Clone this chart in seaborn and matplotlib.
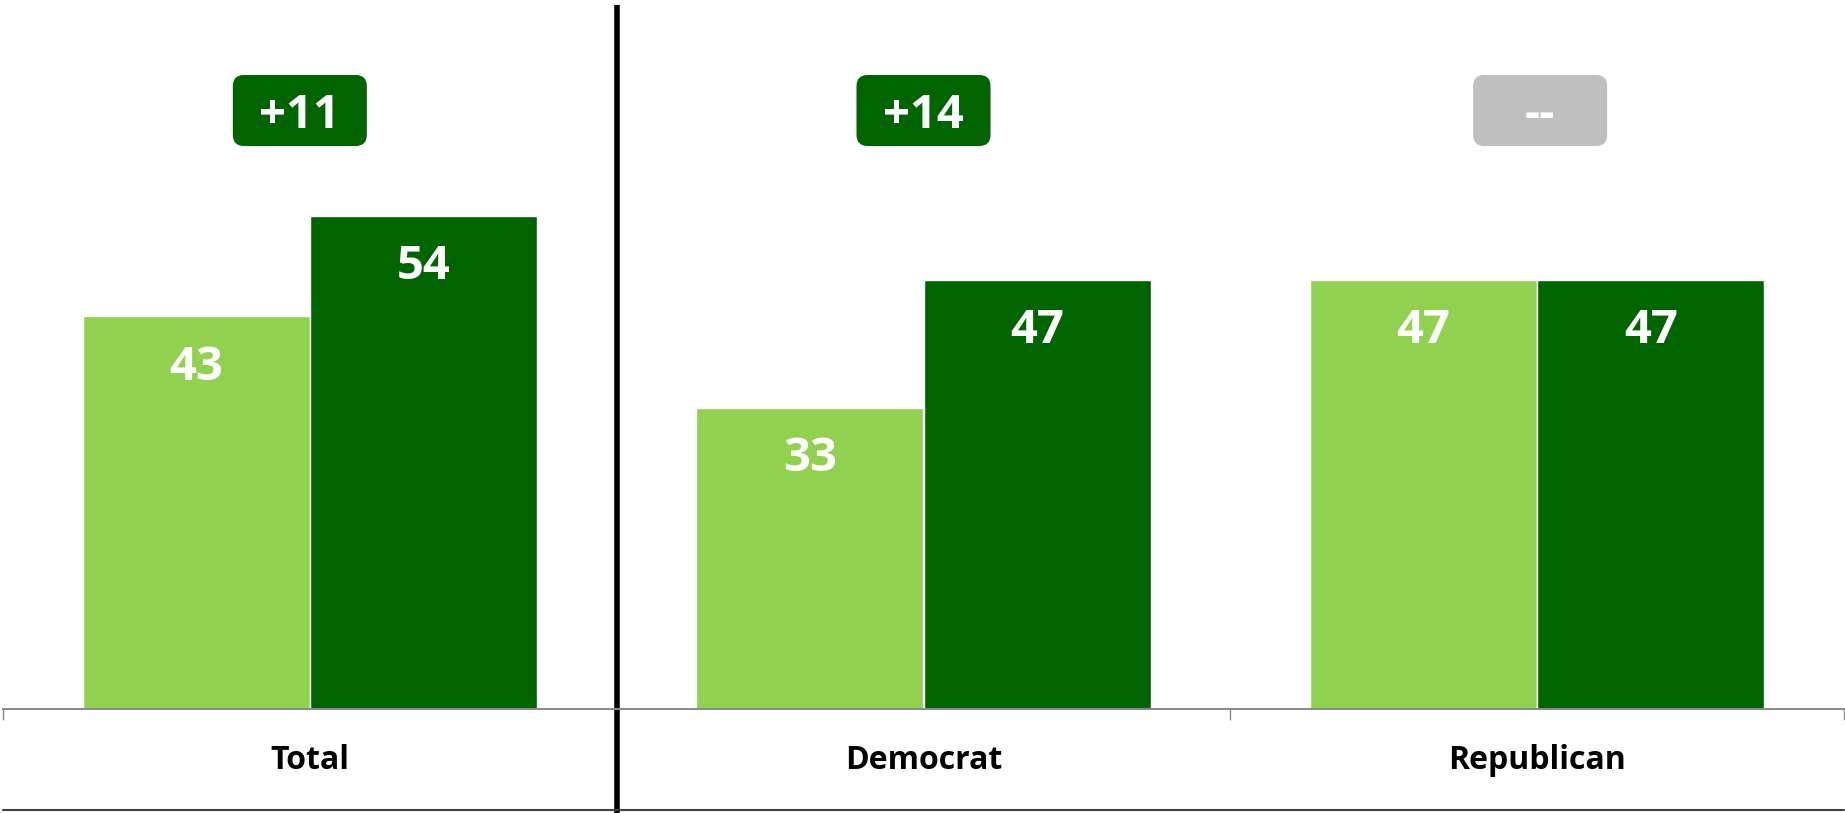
import pandas as pd
import matplotlib.pyplot as plt
import seaborn as sns
from matplotlib.patches import FancyBboxPatch
from matplotlib.transforms import IdentityTransform

groups = ['Total', 'Democrat', 'Republican']
periods = ['Earlier', 'Later']
earlier_values = [43, 33, 47]
later_values = [54, 47, 47]
change_labels = ['+11', '+14', '--']
change_colors = ['#006400', '#006400', '#BFBFBF']
bar_colors = ['#92D050', '#006400']

df = pd.DataFrame({
    'group': groups * 2,
    'period': [periods[0]] * 3 + [periods[1]] * 3,
    'value': earlier_values + later_values,
})

sns.set_theme(style='white')
plt.rcParams['font.family'] = ['Open Sans', 'DejaVu Sans']

W, H, DPI = 1845, 813, 100
fig = plt.figure(figsize=(W / DPI, H / DPI), dpi=DPI)
base_px = 709          # axis line, pixels from top
px_per_unit = 9.13
ax = fig.add_axes([3 / W, (H - base_px) / H, (1844 - 3) / W, base_px / H])

sns.barplot(data=df, x='group', y='value', hue='period', order=groups,
            hue_order=periods, palette=bar_colors, width=0.74, ax=ax,
            edgecolor='white', linewidth=1, saturation=1, legend=False)

ax.set_xlim(-0.5, 2.5)
ax.set_ylim(0, base_px / px_per_unit)
ax.set_xlabel('')
ax.set_ylabel('')
ax.set_yticks([])
ax.set_xticks([-0.5, 0.5, 1.5, 2.5])
ax.set_xticklabels([])
ax.tick_params(axis='x', direction='out', length=8, width=1, color='#888888', bottom=True)
for s in ['top', 'left', 'right']:
    ax.spines[s].set_visible(False)
ax.spines['bottom'].set_color('#888888')
ax.spines['bottom'].set_linewidth(1.4)

# value labels inside bars
for container in ax.containers:
    for bar in container:
        v = bar.get_height()
        ax.text(bar.get_x() + bar.get_width() / 2, v - 6.95, f'{v:.0f}',
                ha='center', va='baseline', color='white',
                fontsize=34, fontweight='bold')

# category labels
for i, g in enumerate(groups):
    ax.text(i, -(769 - base_px) / px_per_unit, g, ha='center', va='baseline',
            fontsize=23, fontweight='bold', color='black', clip_on=False)

# change badges
badge_w, badge_h = 134, 71
badge_y = (base_px - 110.5) / px_per_unit
badge_dx = [-10, 0, 3]   # small pixel nudges seen in the original
fig.canvas.draw()
for i, (lab, col) in enumerate(zip(change_labels, change_colors)):
    cx, cy = ax.transData.transform((i, badge_y))
    cx += badge_dx[i]
    box = FancyBboxPatch((cx - badge_w / 2, cy - badge_h / 2), badge_w, badge_h,
                         boxstyle='round,pad=0,rounding_size=11',
                         transform=IdentityTransform(), facecolor=col,
                         edgecolor='none', zorder=2, clip_on=False)
    ax.add_artist(box)
    tx, _ = ax.transData.inverted().transform((cx, cy))
    ax.text(tx, (base_px - 128) / px_per_unit, lab, ha='center', va='baseline',
            color='white', fontsize=34, fontweight='bold', zorder=3)

# black divider after Total, and bottom border
ax.plot([0.5, 0.5], [(base_px - 5) / px_per_unit, -(H - base_px) / px_per_unit],
        color='black', lw=4, clip_on=False, solid_capstyle='butt')
ax.plot([-0.5, 2.5], [-(810 - base_px) / px_per_unit] * 2,
        color='#404040', lw=1.5, clip_on=False)

fig.savefig('out.png', dpi=DPI)
